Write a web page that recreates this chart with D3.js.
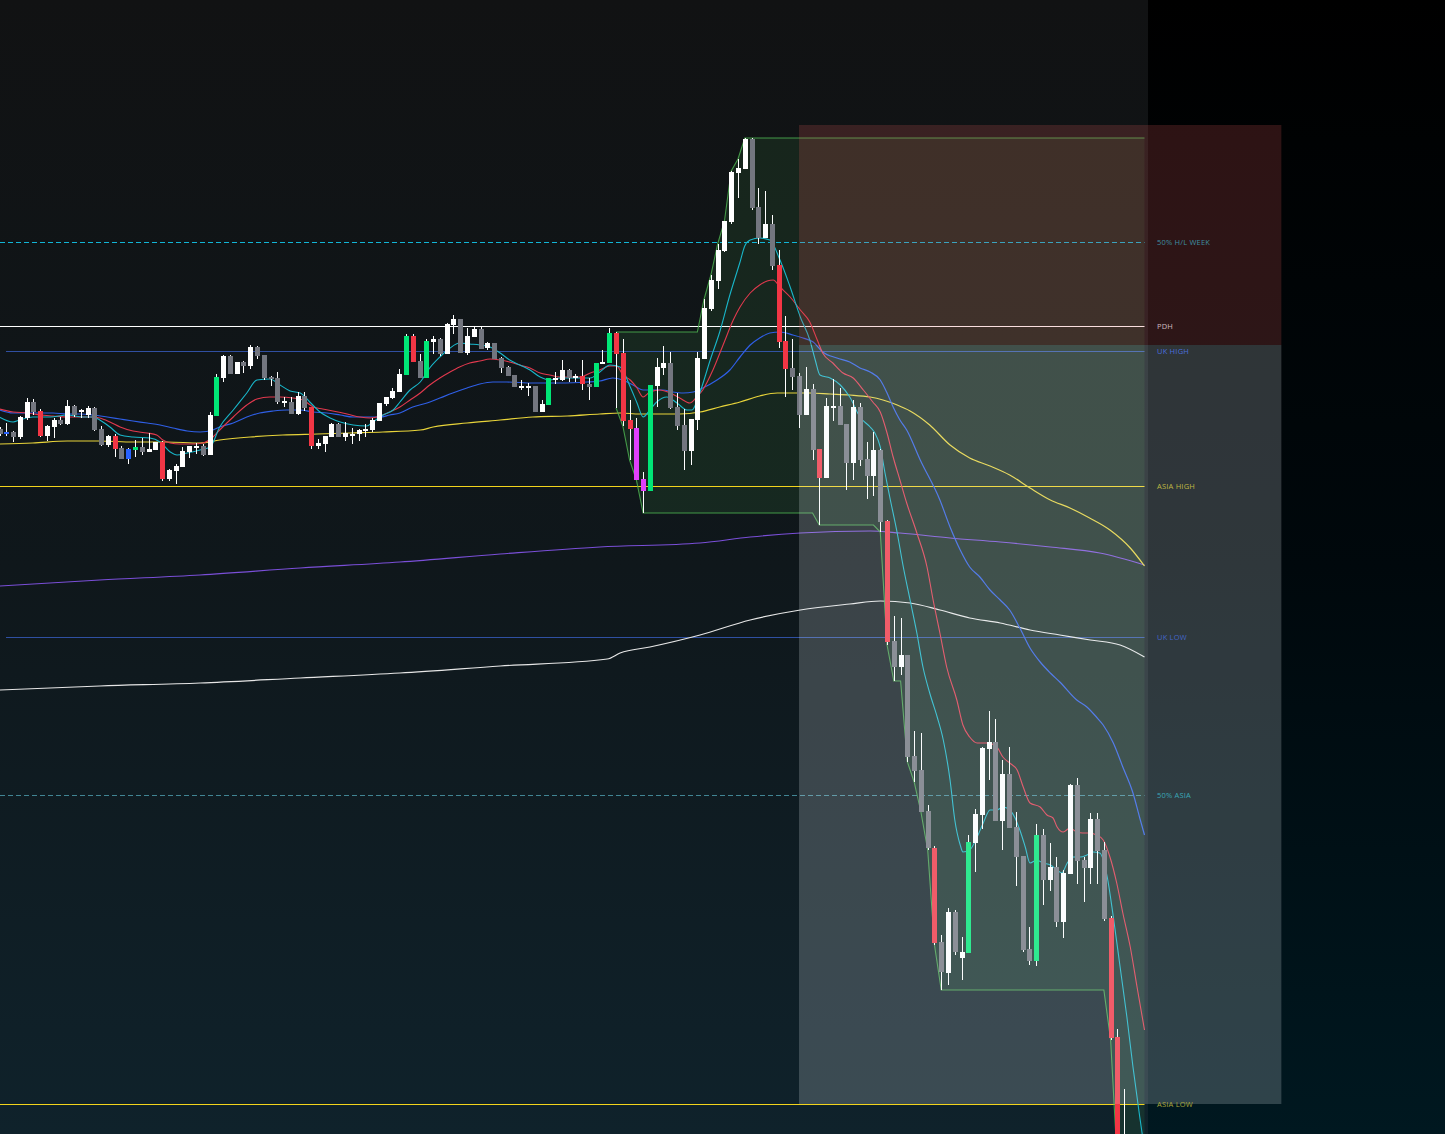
<!DOCTYPE html>
<html><head><meta charset="utf-8">
<script src="https://cdn.jsdelivr.net/npm/d3@7/dist/d3.min.js"></script>
<style>html,body{margin:0;padding:0;background:#000;overflow:hidden}svg{display:block}</style>
</head><body><svg id="c" width="1445" height="1134"></svg>
<script>
// ---------- DATA (price units) ----------
const opens  = [771,768,768,763,782,798,789,764,773,780,776,794,788,785,792,771,755,764,752,751,750,753,748,750,758,721,729,733,748,753,754,745,784,822,844,826,838,834,853,845,823,822,798,798,786,804,793,754,756,763,776,763,765,766,770,770,779,796,802,808,825,864,839,822,858,861,846,875,881,847,863,871,852,857,842,833,825,813.5,813,814,788,795,821,820,830,823,824,816,813,836,837,867,847,780,772,721,709,814,832,837,793,775,749,780,841,891,919,949,978,1027,1031,1061,993,962,976,935,859,832,824,785,811,751,722,793,794,776,737,793,741,724,750,679,559,533,545,444,430,389,352,258,227,288,242,247,357,385,451,458,379,426,373,344,251,239,365,320,333,278,326,415,340,332,381,350,282,163,30,50,20,0];
const highs  = [773,777,769,784,802,801,791,775,782,783,800,795,791,794,793,774,765,766,754,752,760,762,767,758,759,731,736,753,754,757,756,788,826,845,845,838,839,855,854,845,824,828,803,803,808,808,793,761,764,777,777,778,772,771,776,782,797,803,812,831,866,866,846,861,864,862,877,885,881,872,874,874,858,857,843,834,825,820,817,814,800,822,828,840,831,826,840,822,837,850,872,868,861,800,782,728,815,842,854,848,807,791,781,848,901,925,956,979,1029,1041,1062,1062,1012,1009,985,950,884,861,827,833,816,751,802,821,812,776,800,797,758,768,751,680,584,582,545,469,467,395,354,265,292,290,263,365,391,453,489,481,440,453,388,344,273,376,371,357,343,330,416,422,343,387,387,358,284,171,111,60,30,15];
const lows   = [764,764,758,761,780,785,763,759,762,775,775,783,782,782,769,754,753,743,741,736,743,745,748,750,719,719,716,733,742,746,744,745,784,818,826,826,827,831,841,820,814,796,793,786,785,789,751,751,748,763,763,759,756,759,763,768,779,794,801,808,825,838,822,822,846,844,846,866,847,845,863,851,850,841,827,824,813,810,804,788,788,795,816,819,818,818,810,800,813,836,837,792,774,740,720,687,709,793,825,791,770,730,735,770,841,889,911,948,976,1002,1031,990,956,962,930,852,803,810,772,785,740,675,722,779,775,710,720,734,701,704,668,555,519,525,438,418,388,350,255,210,215,245,220,247,328,371,420,379,350,372,314,248,235,234,295,309,273,262,326,316,298,316,316,279,160,35,20,10,-10,-15];
const closes = [766,767.5,763,783,798,788,764,774,780,776,794,785,790,792,770,755,764,751,741,741,753,748,751,758,721,730,734,749,754,754,745,785,823,844,826,838,834,853,844,822,821,798,799,786,804,792,754,757,764,776,763,767,766,770,771,780,797,803,809,826,864,838,822,859,861,846,876,881,847,864,871,851,857,841,832,824,813,814,814,788,796,822,822,830,822,824,816,813,837,838,867,846,779,771,720,709,815,833,837,792,774,749,781,842,892,920,950,979,1028,1032,1061,992,962,976,934,858,831,823,785,811,750,722,794,794,775,737,793,740,724,750,678,558,533,545,443,429,388,352,257,228,288,248,248,358,386,452,458,379,426,372,343,250,239,365,320,333,278,327,415,339,332,381,349,281,162,40,50,20,0,10];
// candle styles: w up, g down, R/G volume-highlight bear/bull, B blue, M magenta
const candleKinds = "gBgwwgRwwg"+"wgwwggwRgB"+"GgwwRwwwww"+"gwGwgwgwgg"+"ggwgwgRwww"+"gwwwwwwwww"+"GRgGwgwwgw"+"wgwggggwwg"+"wGwwgwRgGw"+"GRRRMMGwwg"+"ggwwwwwwww"+"wggwgRRggw"+"gRwwggwggw"+"gRgwggggRg"+"wgwGwwwgwg"+"gggGgwgwwg"+"gwggRRwggw";

// moving averages: [bar index, price]
const emaFast = [[0,783],[2,778],[3,780],[4.9,783],[7.5,783],[10,785],[12.3,783],[13.8,783],[14.8,780],[16.3,773],[17.8,765],[19.7,763],[22.2,762],[23.7,758],[25.2,748],[26.2,745],[27.7,747],[29.6,750],[31.1,753],[32.5,773],[34.5,790],[36.5,807],[38,820],[39.9,821],[41.4,815],[42.9,809],[44.4,807],[45.8,798],[47.3,788],[48.8,782],[50.3,778],[52.2,775],[54.2,774],[55.1,778],[56.6,785],[58.1,790],[59.1,798],[60.6,810],[62.1,818],[63.5,832],[65,843],[66.5,852],[67.9,857],[69.4,856],[70.9,855],[72.4,853],[73.9,847],[75.3,840],[76.8,835],[78.3,830],[79.8,823],[81.2,820],[82.7,822],[85.7,822],[87.2,822],[88.6,828],[90.1,835],[91.6,833],[93.1,813],[94.1,797],[95,783],[96,790],[97,798],[98.5,803],[100,797],[101.5,790],[102.2,790],[103.4,808],[104.9,840],[106.3,868],[107.8,905],[109.3,938],[110,954],[110.8,960],[112.2,962],[113.7,960],[115.2,940],[116.7,913],[118.2,883],[119.6,860],[120.4,840],[121.1,825],[122.6,822],[124.1,815],[125.5,803],[127,783],[128.5,773],[129.2,767],[130,753],[130.7,727],[131.4,703],[132.5,667],[133.4,633],[134.4,600],[135.4,567],[136.3,533],[137.3,507],[138.4,483],[139.3,460],[140.3,420],[141,380],[141.8,355],[142.2,348],[143.2,350],[144.3,363],[145.2,377],[146.2,390],[147.2,390],[148.1,393],[149.1,390],[149.9,382],[150.6,370],[151.4,353],[152.1,337],[153.1,340],[154,337],[155.1,335],[156.1,330],[156.8,327],[157.6,337],[158.5,343],[159.5,343],[160.5,345],[161.4,348],[162.4,347],[163.5,323],[164.4,283],[165.4,233],[166.4,183],[167.3,133],[168.3,83],[169,50]];
const emaMid = [[0,791],[2,788],[4.1,787],[6,785],[7.9,784],[10,783],[11.9,783],[13.8,783],[14.8,782],[16.3,778],[17.8,773],[19.7,769],[21.8,767],[23.2,765],[24.1,760],[25.2,757],[26.6,756],[28.6,756],[30,757],[31.5,763],[32.5,770],[34.5,783],[36.5,795],[38,801],[39.9,803],[41.4,803],[43.3,802],[44.8,800],[46.3,793],[47.7,791],[49.2,789],[51.3,786],[53.2,783],[54.7,782],[56.2,784],[57.6,788],[59.1,793],[60.6,800],[62.1,807],[63.5,815],[65,822],[66.5,828],[67.9,833],[69.4,837],[70.9,839],[72.4,841],[73.9,840],[75.3,838],[76.8,835],[78.3,832],[79.8,827],[81.2,825],[82.7,823],[85.7,823],[87.2,827],[88.6,830],[90.1,834],[91.1,834],[92,825],[93.1,820],[94.1,812],[95,803],[96,808],[97.5,810],[99,807],[100.4,802],[101.9,797],[102.9,803],[103.8,810],[105.3,830],[106.8,855],[108.3,880],[109.3,893],[110.8,907],[112.2,915],[113.3,919],[114.2,920],[115.2,913],[116.7,903],[118.2,890],[119.6,878],[120.7,860],[121.5,847],[123,837],[124.5,827],[126,822],[127.5,810],[128.9,798],[130,788],[131,767],[131.9,743],[132.9,720],[133.9,697],[135.4,667],[136.9,633],[137.8,600],[138.8,567],[139.8,533],[141.3,500],[142.2,475],[143.2,463],[144.3,457],[145.8,457],[147.2,453],[148.1,443],[149.1,437],[150.2,430],[151.1,413],[152.1,397],[153.6,393],[154.6,385],[155.5,382],[156.1,373],[157,368],[158,372],[159,368],[159.9,367],[160.9,367],[161.9,365],[162.9,360],[163.9,343],[164.9,317],[165.8,287],[166.9,253],[167.9,213],[169,170]];
const emaSlow = [[0,790],[2,787],[6,787],[7.9,787],[10,786],[11.9,786],[13.8,785],[15.9,783],[17.8,781],[19.7,779],[21.8,777],[23.7,775],[25.6,772],[27.7,769],[29.6,768],[31.5,770],[32.5,773],[34.5,777],[36.5,783],[38.4,787],[40.4,789],[42.4,790],[44.4,790],[46.3,788],[48.3,787],[50.3,785],[52.2,783],[56.2,783],[57.6,785],[59.1,787],[61,793],[63.1,797],[65,802],[66.9,807],[69,812],[70.9,816],[72.8,818],[74.9,818],[78.7,817],[82.7,817],[86.7,818],[88.6,819],[90.5,822],[92,820],[93.5,815],[95,810],[97.9,810],[99.4,808],[100.9,807],[102.4,808],[103.8,812],[105.9,820],[107.8,830],[109.3,843],[110.8,855],[112.2,862],[113.7,867],[115.2,868],[117.1,865],[118.6,862],[120.1,858],[121.5,848],[123.6,842],[125.5,838],[127,832],[128.5,828],[130,820],[131,807],[131.9,793],[132.9,780],[133.9,770],[135.9,740],[138.8,700],[140.3,673],[141.8,650],[143.2,633],[144.7,623],[146.2,610],[147.7,600],[149.1,590],[150.6,572],[152.1,552],[153.6,538],[155.1,527],[156.5,518],[159,500],[160.5,493],[161.9,483],[162.9,475],[164.4,457],[165.8,433],[167.3,407],[168.3,382],[169,365]];
const emaTrend = [[0,756],[4.9,757],[10,759],[14.8,759],[19.7,758],[24.7,758],[29.6,757],[32.5,760],[37,763],[41.8,765],[46.9,766],[51.7,767],[56.6,768],[62.1,770],[64,773],[69,777],[73.9,780],[78.7,783],[83.8,784],[88.6,786],[91.6,787],[94.5,786],[100.4,786],[103.4,788],[106.3,793],[109.3,798],[112.2,804],[114.8,807],[119.6,807],[122.6,806],[125.5,805],[128.5,803],[130.4,800],[132.5,795],[134.4,789],[137.3,775],[140.3,755],[143.2,742],[146.2,734],[149.1,725],[152.1,712],[155.1,700],[158,692],[160.9,682],[163.9,670],[166.9,652],[169,634]];
const emaLong = [[0,614],[14.8,620],[29.6,625],[44.4,632],[59.1,638],[73.9,646],[88.6,653],[103.4,657],[110.8,663],[118.2,667],[128.5,669],[132.9,667],[140.3,662],[147.7,658],[155.1,653],[162.4,647],[169,635]];
const vwapLine = [[0,510],[14.8,514],[29.6,517],[44.4,522],[59.1,527],[73.9,534],[89.7,541],[91.6,547],[96,553],[103.4,565],[110.8,580],[118.2,590],[125.5,596],[130,599],[134.4,597],[138.8,590],[143.2,582],[147.7,577],[152.1,570],[156.5,565],[161,560],[165.4,555],[169,543]];

// key levels
const levelNames  = ["50% H/L WEEK","PDH","UK HIGH","ASIA HIGH","UK LOW","50% ASIA","ASIA LOW"];
const levelPrices = [958,874,849,714,563,405,96];
const levelColors = ["#12b5d6","#ffffff","#3b63cf","#f2d41c","#3b63cf","#4a98a8","#f2d41c"];
const levelLabelColors = ["#3e8ea0","#cdbcbf","#4a6ede","#bfb643","#4465c6","#3ba6b6","#aaa53a"];
const levelDashed = [true,false,false,false,false,true,false];
const levelStartBar = [0,0,0.96,0,0.96,0,0];

// session channel starts at this bar
const sessionStart = 91;
// short position tool: bars and prices
const posStartBar = 118, posEndBar = 189.2;
const posEntry = 855, posStop = 1075, posTarget = 96;

// ---------- DRAW ----------
const W = 1445, H = 1134, chartRight = 1148;
const svg = d3.select("#c");
const x = d3.scaleLinear().domain([0,169]).range([-0.5,1144.5]);
const y = d3.scaleLinear().domain([1200,66]).range([0,1134]);
const lastBar = 169;

const defs = svg.append("defs");
function grad(id, stops){
  const g = defs.append("linearGradient").attr("id",id).attr("x1",0).attr("y1",0).attr("x2",0).attr("y2",1);
  stops.forEach(s=>g.append("stop").attr("offset",s[0]).attr("stop-color",s[1]));
}
grad("bgR",[[0,"#000000"],[0.5,"#00080c"],[1,"#001820"]]);
grad("bgL",[[0,"#111213"],[0.5,"#0f171b"],[1,"#0f222b"]]);
svg.append("rect").attr("width",W).attr("height",H).attr("fill","url(#bgR)");
svg.append("rect").attr("width",chartRight).attr("height",H).attr("fill","url(#bgL)");

// session channel
const chan = d3.range(sessionStart, lastBar+1).map(i=>({
  i, up: d3.max(highs.slice(sessionStart,i+1)), lo: d3.min(lows.slice(sessionStart,i+1))
}));
svg.append("path").datum(chan)
  .attr("d", d3.area().x(d=>x(d.i)).y0(d=>y(d.lo)).y1(d=>y(d.up)))
  .attr("fill","rgba(76,175,80,0.12)");

// levels
const lv = svg.append("g");
levelPrices.forEach((p,k)=>{
  lv.append("line").attr("x1", Math.max(0, x(levelStartBar[k]))).attr("x2", x(lastBar))
    .attr("y1", Math.round(y(p))+0.5).attr("y2", Math.round(y(p))+0.5)
    .attr("stroke", levelColors[k]).attr("stroke-width",1)
    .attr("stroke-opacity", (k==2||k==4)?0.75:(k==5?0.85:1))
    .attr("stroke-dasharray", levelDashed[k]?"5,3":null);
});

// moving averages
const ln = d3.line().x(d=>x(d[0])).y(d=>y(d[1])).curve(d3.curveMonotoneX);
[[vwapLine,"#e6e6e6",1.2],[emaLong,"#7a4fd8",1.1],[emaTrend,"#e8d43a",1.2],[emaSlow,"#2f5fe6",1.2],[emaMid,"#e2394e",1.1],[emaFast,"#19b6c9",1.1]]
 .forEach(([d,c,w])=>svg.append("path").datum(d).attr("d",ln).attr("fill","none").attr("stroke",c).attr("stroke-width",w));

// channel lines
svg.append("path").datum(chan).attr("d", d3.line().x(d=>x(d.i)).y(d=>y(d.up))).attr("fill","none").attr("stroke","#4caf50").attr("stroke-width",1.1).attr("stroke-opacity",0.85);
svg.append("path").datum(chan).attr("d", d3.line().x(d=>x(d.i)).y(d=>y(d.lo))).attr("fill","none").attr("stroke","#4caf50").attr("stroke-width",1.1).attr("stroke-opacity",0.85);

// candles
const kindColor = {w:"#ffffff", g:"#73767f", R:"#f23645", G:"#00e676", B:"#2962ff", M:"#e040fb"};
const cg = svg.append("g").attr("shape-rendering","crispEdges");
const bw = 5;
d3.range(opens.length).forEach(i=>{
  const cx = Math.round(x(i));
  cg.append("line").attr("x1",cx+0.5).attr("x2",cx+0.5).attr("y1",y(highs[i])).attr("y2",y(lows[i]))
    .attr("stroke","#ffffff").attr("stroke-width",1);
  const top = y(Math.max(opens[i],closes[i])), bot = y(Math.min(opens[i],closes[i]));
  cg.append("rect").attr("x",cx-2).attr("width",bw).attr("y",top).attr("height",Math.max(1.5,bot-top))
    .attr("fill",kindColor[candleKinds[i]]);
});

// position tool overlay
svg.append("rect").attr("x",x(posStartBar)).attr("width",x(posEndBar)-x(posStartBar))
  .attr("y",y(posStop)).attr("height",y(posEntry)-y(posStop)).attr("fill","rgba(227,88,90,0.2)");
svg.append("rect").attr("x",x(posStartBar)).attr("width",x(posEndBar)-x(posStartBar))
  .attr("y",y(posEntry)).attr("height",y(posTarget)-y(posEntry)).attr("fill","rgba(235,245,250,0.2)");

// labels
levelNames.forEach((n,k)=>{
  svg.append("text").attr("x", x(lastBar)+12.5).attr("y", y(levelPrices[k])+0.5)
    .attr("dominant-baseline","middle").attr("font-family","'Open Sans', Lato, sans-serif")
    .attr("font-size","7.5px").attr("font-weight",400).attr("letter-spacing","0.2px")
    .attr("fill", levelLabelColors[k]).text(n);
});
</script></body></html>
